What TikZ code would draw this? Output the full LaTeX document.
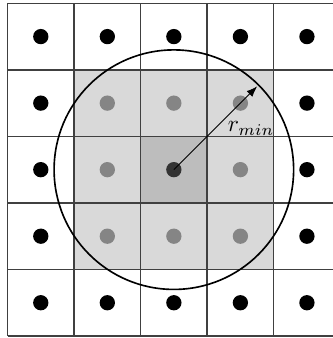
\documentclass[tikz,border=0pt]{standalone}
\usepackage{tikz}
\usetikzlibrary{arrows.meta,positioning}

\begin{document}
\begin{tikzpicture}[
 pt0/.style={circle,fill=black,inner sep=0pt,minimum size=2.3mm},
 pt1/.style={pt0,fill=black!48},
 pt2/.style={pt0,fill=black!80},
 gridline/.style={draw=black!75,line width=0.6pt},
 lab/.style={font=\normalsize},
 arr/.style={-{Latex[length=1.6mm]},line width=0.35pt}]
 \useasboundingbox (-0.113,-0.03) rectangle (4.88,5.05);
 % shaded neighbourhood
 \fill[black!15] (1,1) rectangle (4,4);
 \fill[black!26] (2,2) rectangle (3,3);
 % cells
 \draw[gridline] (0,0) grid (5,5);
 % cell points: 0 outer, 1 inner, 2 centre
 \foreach \i in {0,...,4}
  \foreach \j in {0,...,4}{
   \pgfmathtruncatemacro\k{and(and(\i>0,\i<4),and(\j>0,\j<4))+and(\i==2,\j==2)}
   \node[pt\k] (p\i\j) at (\i+0.5,\j+0.5) {};
  }
 % search radius
 \draw[line width=0.7pt] (p22.center) circle (1.8);
 \path (p22.center) ++(45:1.77) coordinate (rim);
 \draw[arr] (p22.center) -- (rim);
 \node[lab] (rmin) at (3.66,3.12) {$r_{min}$};
\end{tikzpicture}
\end{document}
